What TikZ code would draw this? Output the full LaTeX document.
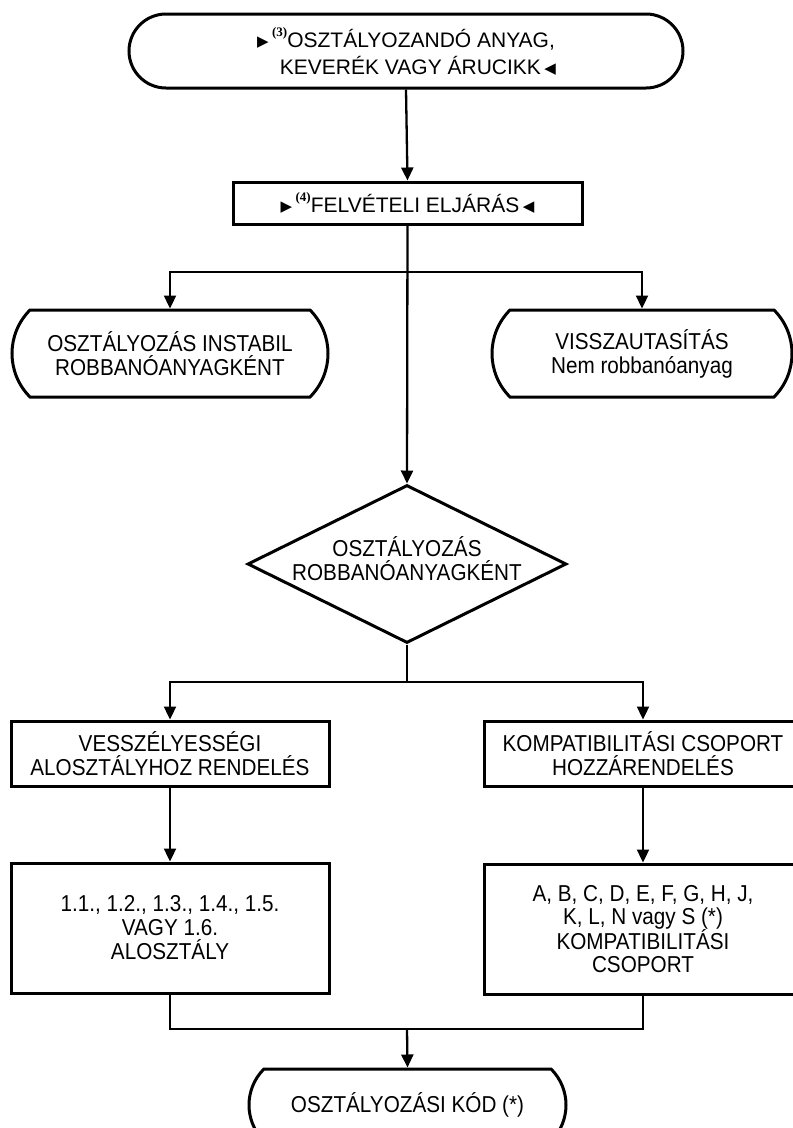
\documentclass[tikz,border=0pt]{standalone}
\usepackage{fontspec}
\setmainfont{Liberation Sans}
\newfontfamily\condfont{Liberation Sans}[FakeStretch=0.9]
\newfontfamily\supfont{Liberation Serif}
\newfontfamily\symfont{DejaVu Sans}
\usetikzlibrary{shapes.misc,shapes.geometric,arrows.meta}
\newcommand{\rtri}{{\symfont\fontsize{15}{15}\selectfont\raisebox{1pt}{▶}}}
\newcommand{\ltri}{{\symfont\fontsize{15}{15}\selectfont\raisebox{1pt}{◀}}}
\newcommand{\supn}[1]{\raisebox{11pt}{\supfont\bfseries\fontsize{13}{13}\selectfont(#1)}}
\tikzset{
  base/.style={font=\condfont\fontsize{23}{24}\selectfont, align=center, inner sep=0pt},
  term/.style={base, draw, line width=3pt, rounded rectangle, rounded rectangle arc length=90},
  box/.style={base, draw, line width=3pt, rectangle},
  diam/.style={draw, line width=3pt, diamond, inner sep=0pt},
  conn/.style={line width=2.3pt, -{Triangle[length=13pt,width=12pt]}},
  plain/.style={line width=2.3pt},
}
\begin{document}
\begin{tikzpicture}[x=1pt,y=-1pt]
\useasboundingbox (0,0) rectangle (793,1128);
\clip (0,0) rectangle (793,1128);
% nodes
\node[term, rounded rectangle arc length=180, minimum width=554pt, minimum height=74pt,
      font=\fontsize{21}{27}\selectfont] (start) at (406,51)
  {\rtri\,\supn{3}OSZTÁLYOZANDÓ ANYAG,\\\hspace*{24pt}KEVERÉK VAGY ÁRUCIKK\,\ltri};
\node[box, minimum width=349pt, minimum height=42pt, font=\fontsize{21}{24}\selectfont] (felv) at (407.5,203)
  {\rtri\,\supn{4}FELVÉTELI ELJÁRÁS\,\ltri};
\node[term, minimum width=316pt, minimum height=87pt] (instab) at (170,353.5)
  {OSZTÁLYOZÁS INSTABIL\\ROBBANÓANYAGKÉNT};
\node[term, minimum width=300pt, minimum height=87pt] (vissza) at (642,353.5)
  {VISSZAUTASÍTÁS\\Nem robbanóanyag};
\node[diam, minimum width=319pt, minimum height=158pt] (diam) at (407,564) {};
\node[base] (dtext) at (407,559) {OSZTÁLYOZÁS\\ROBBANÓANYAGKÉNT};
\node[box, minimum width=318pt, minimum height=65pt] (v1) at (170,753.5)
  {VESSZÉLYESSÉGI\\ALOSZTÁLYHOZ RENDELÉS};
\node[box, minimum width=318pt, minimum height=65pt] (k1) at (643,753.5)
  {KOMPATIBILITÁSI CSOPORT\\HOZZÁRENDELÉS};
\node[box, minimum width=318pt, minimum height=130pt, font=\condfont\fontsize{23}{24}\selectfont] (v2) at (170,928)
  {1.1., 1.2., 1.3., 1.4., 1.5.\\VAGY 1.6.\\ALOSZTÁLY};
\node[box, minimum width=318pt, minimum height=130pt, font=\condfont\fontsize{23}{22.5}\selectfont] (k2) at (643,929)
  {A, B, C, D, E, F, G, H, J,\\K, L, N vagy S (*)\\KOMPATIBILITÁSI\\CSOPORT};
\node[term, minimum width=317pt, minimum height=72pt] (end) at (407.5,1105)
  {OSZTÁLYOZÁSI KÓD (*)};
% junctions
\coordinate (b1) at (407,272);
\coordinate (b2) at (407,682);
\coordinate (m) at (407,1029);
% connectors
\draw[conn] (start.south) -- (felv.north);
\draw[conn] (felv.south) -- (diam.north);
\draw[conn] (b1) -| (instab.north);
\draw[conn] (b1) -| (vissza.north);
\draw[plain] (diam.south) -- (b2);
\draw[conn] (b2) -| (v1.north);
\draw[conn] (b2) -| (k1.north);
\draw[conn] (v1.south) -- (v2.north);
\draw[conn] (k1.south) -- (k2.north);
\draw[plain] (v2.south) |- (m);
\draw[plain] (k2.south) |- (m);
\draw[conn] (m) -- (end.north);
\end{tikzpicture}
\end{document}
